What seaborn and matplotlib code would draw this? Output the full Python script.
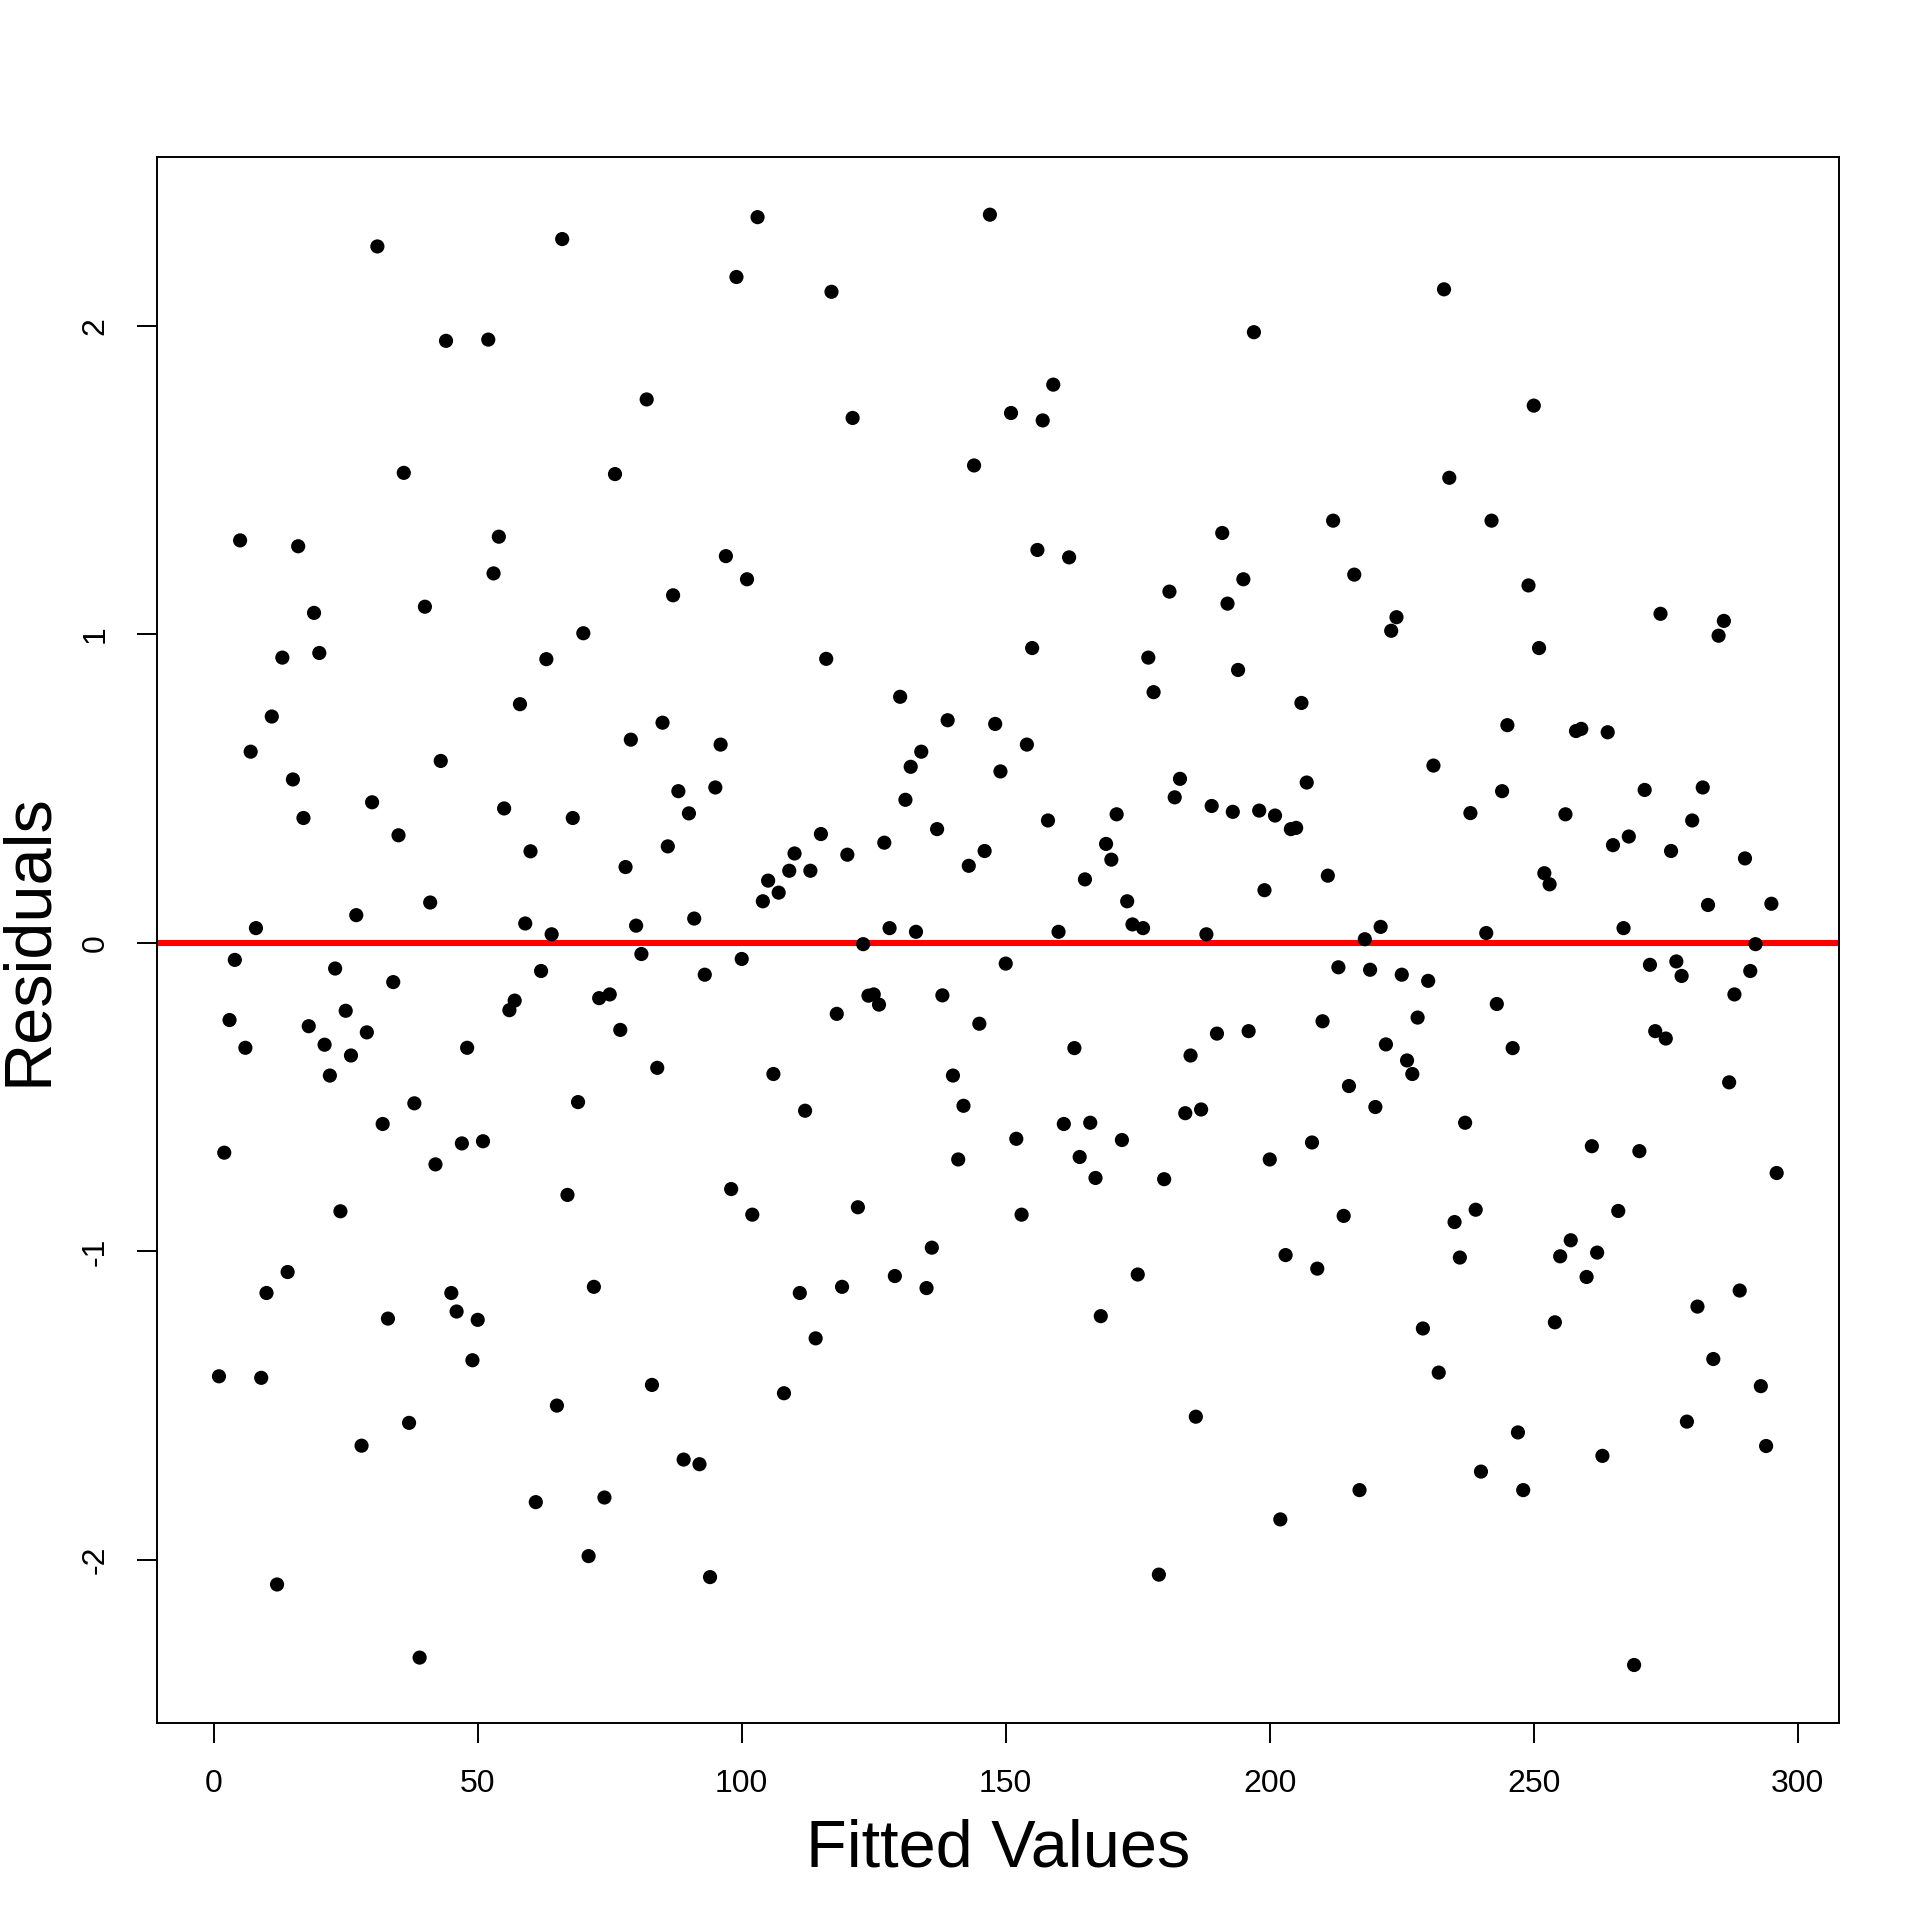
import numpy as np
import pandas as pd
import matplotlib
matplotlib.use('Agg')
import matplotlib.pyplot as plt
import seaborn as sns

residuals = [
    -1.405, -0.68, -0.25, -0.055, 1.305, -0.34, 0.62, 0.048, -1.41, -1.135,
    0.734, -2.08, 0.925, -1.067, 0.53, 1.286, 0.405, -0.27, 1.07, 0.94,
    -0.33, -0.43, -0.083, -0.87, -0.22, -0.365, 0.09, -1.63, -0.29, 0.456,
    2.258, -0.587, -1.218, -0.127, 0.349, 1.524, -1.556, -0.52, -2.317, 1.09,
    0.131, -0.718, 0.59, 1.952, -1.135, -1.195, -0.65, -0.34, -1.353, -1.222,
    -0.643, 1.956, 1.198, 1.317, 0.436, -0.218, -0.187, 0.774, 0.063, 0.297,
    -1.813, -0.091, 0.92, 0.028, -1.5, 2.282, -0.817, 0.405, -0.516, 1.004,
    -1.988, -1.115, -0.179, -1.798, -0.167, 1.52, -0.282, 0.246, 0.659, 0.056,
    -0.036, 1.762, -1.433, -0.405, 0.714, 0.313, 1.127, 0.492, -1.675, 0.42,
    0.079, -1.69, -0.103, -2.056, 0.504, 0.643, 1.254, -0.798, 2.159, -0.052,
    1.179, -0.881, 2.353, 0.135, 0.202, -0.425, 0.163, -1.46, 0.234, 0.29,
    -1.135, -0.544, 0.234, -1.282, 0.353, 0.921, 2.111, -0.23, -1.115, 0.286,
    1.702, -0.857, -0.004, -0.171, -0.167, -0.2, 0.325, 0.048, -1.08, 0.798,
    0.464, 0.571, 0.036, 0.62, -1.119, -0.988, 0.369, -0.17, 0.722, -0.43,
    -0.702, -0.528, 0.25, 1.548, -0.262, 0.298, 2.361, 0.71, 0.556, -0.067,
    1.718, -0.635, -0.881, 0.643, 0.956, 1.274, 1.694, 0.397, 1.81, 0.036,
    -0.587, 1.25, -0.341, -0.694, 0.206, -0.583, -0.762, -1.21, 0.321, 0.27,
    0.417, -0.639, 0.135, 0.06, -1.075, 0.048, 0.925, 0.813, -2.048, -0.766,
    1.139, 0.472, 0.532, -0.552, -0.365, -1.536, -0.54, 0.028, 0.444, -0.294,
    1.329, 1.1, 0.425, 0.885, 1.179, -0.286, 1.98, 0.429, 0.171, -0.702,
    0.413, -1.869, -1.012, 0.369, 0.373, 0.778, 0.52, -0.647, -1.056, -0.254,
    0.218, 1.369, -0.079, -0.885, -0.464, 1.194, -1.774, 0.012, -0.087, -0.532,
    0.052, -0.329, 1.012, 1.056, -0.103, -0.381, -0.425, -0.242, -1.25, -0.123,
    0.575, -1.393, 2.119, 1.508, -0.905, -1.02, -0.583, 0.421, -0.865, -1.714,
    0.032, 1.369, -0.198, 0.492, 0.706, -0.341, -1.587, -1.774, 1.159, 1.742,
    0.956, 0.226, 0.19, -1.23, -1.016, 0.417, -0.964, 0.687, 0.694, -1.083,
    -0.659, -1.004, -1.663, 0.683, 0.317, -0.869, 0.048, 0.345, -2.341, -0.675,
    0.496, -0.071, -0.286, 1.067, -0.31, 0.298, -0.06, -0.107, -1.552, 0.397,
    -1.179, 0.504, 0.123, -1.349, 0.996, 1.044, -0.452, -0.167, -1.127, 0.274,
    -0.091, -0.004, -1.437, -1.631, 0.127, -0.746,
]
fitted = list(range(1, len(residuals) + 1))

x_ticks = [0, 50, 100, 150, 200, 250, 300]
y_ticks = [-2, -1, 0, 1, 2]

df = pd.DataFrame({'Fitted': fitted, 'Residual': residuals})

sns.set_style('white')
plt.rcParams['font.family'] = ['Liberation Sans', 'DejaVu Sans']

fig = plt.figure(figsize=(9.6, 9.6), dpi=200)
ax = fig.add_axes([0.0816, 0.1026, 0.8762, 0.8158])

sns.scatterplot(data=df, x='Fitted', y='Residual', ax=ax,
                color='black', s=26, edgecolor='none', linewidth=0, zorder=3)
ax.axhline(0, color='#ff0000', lw=2.2, zorder=2)

#R style 4% padding around the data range
xr = max(fitted) - min(fitted)
yr = max(residuals) - min(residuals)
ax.set_xlim(min(fitted) - 0.04 * xr, max(fitted) + 0.04 * xr)
ax.set_ylim(min(residuals) - 0.04 * yr, max(residuals) + 0.04 * yr)

ax.set_xticks(x_ticks)
ax.set_yticks(y_ticks)
ax.set_yticklabels([str(v) for v in y_ticks], rotation=90, va='center')
ax.tick_params(axis='both', direction='out', length=7.2, width=0.7,
               labelsize=11.5, color='black', labelcolor='black',
               bottom=True, left=True)
ax.tick_params(axis='x', pad=9.5)
ax.tick_params(axis='y', pad=9.5)

for sp in ax.spines.values():
    sp.set_visible(True)
    sp.set_color('black')
    sp.set_linewidth(0.7)

ax.set_xlabel('Fitted Values', fontsize=24, color='black')
ax.set_ylabel('Residuals', fontsize=24, color='black')
ax.xaxis.label.set_va('center')
ax.yaxis.label.set_va('center')
ax.xaxis.set_label_coords(0.5, -0.0805)
ax.yaxis.set_label_coords(-0.0759, 0.5)

fig.savefig('out.png', dpi=200, facecolor='white')
